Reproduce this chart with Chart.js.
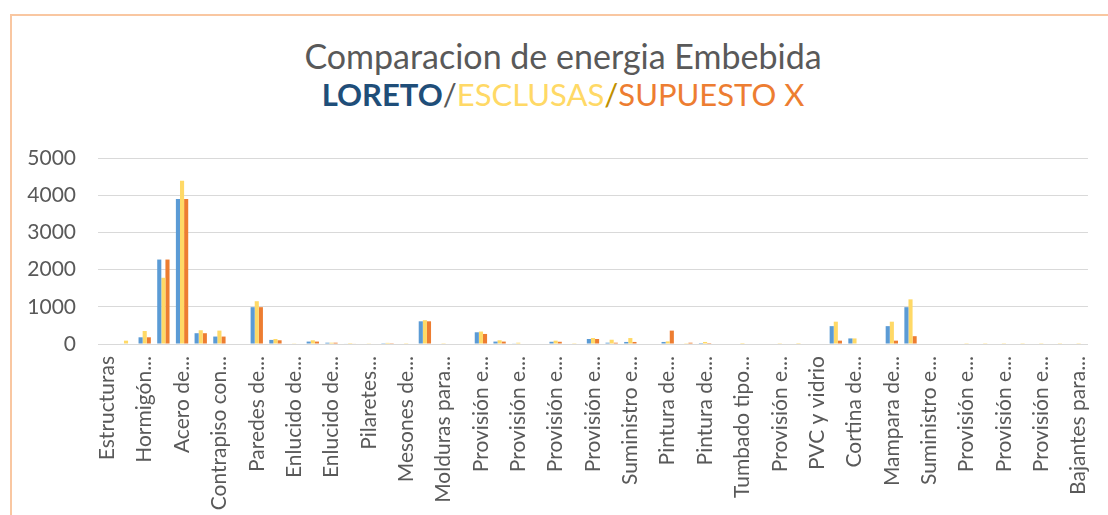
<!DOCTYPE html>
<html>
<head>
<meta charset="utf-8">
<script src="https://cdn.jsdelivr.net/npm/chart.js@4.4.1/dist/chart.umd.min.js"></script>
<style>
  body { margin: 0; background: #fff; }
  #wrap { position: relative; width: 1108px; height: 515px; overflow: hidden; background: #fff; }
  #frame { position: absolute; left: 10px; top: 14px; width: 1300px; height: 700px;
           border-left: 2px solid #F9C7A1; border-top: 2px solid #F9C7A1; }
  .tline { position: absolute; left: 0; width: 1126px; text-align: center;
           font-family: Lato, sans-serif; line-height: 1.2; white-space: nowrap; }
  #chart { position: absolute; left: 0; top: 0; }
</style>
</head>
<body>
<div id="wrap">
  <div id="frame"></div>
  <div class="tline" style="top:36px;font-size:34px;color:#595959">Comparacion de energia Embebida</div>
  <div class="tline" style="top:76px;font-size:31px"><b style="color:#1F4E79">LORETO</b><span style="color:#595959">/</span><span style="color:#FFD966">ESCLUSAS</span><span style="color:#BF9000">/</span><span style="color:#ED7D31">SUPUESTO X</span></div>
  <canvas id="chart" width="1108" height="515"></canvas>
</div>
<script>
// only every second category shows its name on the axis
const tickLabels = [
  "Estructuras", "Hormigón...", "Acero de...", "Contrapiso con...", "Paredes de...",
  "Enlucido de...", "Enlucido de...", "Pilaretes...", "Mesones de...", "Molduras para...",
  "Provisión e...", "Provisión e...", "Provisión e...", "Provisión e...", "Suministro e...",
  "Pintura de...", "Pintura de...", "Tumbado tipo...", "Provisión e...", "PVC y vidrio",
  "Cortina de...", "Mampara de...", "Suministro e...", "Provisión e...", "Provisión e...",
  "Provisión e...", "Bajantes para..."
];

const loreto = [
  0, 15, 180, 2270, 3900, 290, 200, 0, 990, 110,
  0, 65, 35, 15, 0, 5, 0, 610, 0, 0,
  315, 65, 10, 0, 60, 0, 135, 35, 55, 0,
  55, 0, 25, 0, 0, 0, 0, 0, 0, 480,
  150, 0, 480, 990, 0, 0, 0, 0, 0, 0,
  0, 0, 0
];
const esclusas = [
  0, 90, 350, 1780, 4390, 370, 360, 0, 1150, 135,
  8, 100, 35, 25, 8, 30, 5, 640, 5, 0,
  335, 100, 35, 0, 90, 5, 160, 115, 160, 0,
  70, 5, 55, 0, 25, 0, 5, 25, 0, 600,
  150, 0, 600, 1200, 0, 0, 5, 5, 5, 5,
  5, 5, 5
];
const supuestoX = [
  0, 0, 180, 2270, 3900, 290, 200, 0, 990, 100,
  0, 65, 35, 15, 0, 5, 0, 610, 0, 0,
  270, 65, 0, 0, 60, 0, 135, 35, 55, 0,
  360, 35, 25, 0, 0, 0, 0, 0, 0, 90,
  0, 0, 90, 210, 0, 0, 0, 0, 0, 0,
  0, 0, 0
];

const categories = loreto.map((_, i) => i % 2 === 0 ? tickLabels[i / 2] : "");

const font = { family: "Lato, sans-serif", size: 21 };
const gridColor = "#d9d9d9";
const textColor = "#595959";

new Chart(document.getElementById("chart"), {
  type: "bar",
  data: {
    labels: categories,
    datasets: [
      { label: "LORETO", data: loreto, backgroundColor: "#5B9BD5" },
      { label: "ESCLUSAS", data: esclusas, backgroundColor: "#FFD966" },
      { label: "SUPUESTO X", data: supuestoX, backgroundColor: "#ED7D31" }
    ]
  },
  options: {
    responsive: false,
    animation: false,
    datasets: { bar: { categoryPercentage: 0.66, barPercentage: 1.0 } },
    layout: { padding: { top: 158, right: 18, left: 0, bottom: 0 } },
    plugins: {
      legend: { display: false },
      title: { display: false },
      tooltip: { enabled: false }
    },
    scales: {
      x: {
        grid: { display: false },
        border: { display: true, color: gridColor, width: 1 },
        ticks: {
          autoSkip: false, minRotation: 90, maxRotation: 90,
          padding: 4, color: textColor, font: font
        },
        afterFit: s => { s.height = 171; }
      },
      y: {
        min: 0, max: 5000,
        grid: { color: gridColor, lineWidth: 1, drawTicks: false },
        border: { display: false },
        ticks: {
          stepSize: 1000, padding: 22, color: textColor, font: font,
          callback: v => String(v)
        },
        afterFit: s => { s.width = 98; }
      }
    }
  }
});
</script>
</body>
</html>
